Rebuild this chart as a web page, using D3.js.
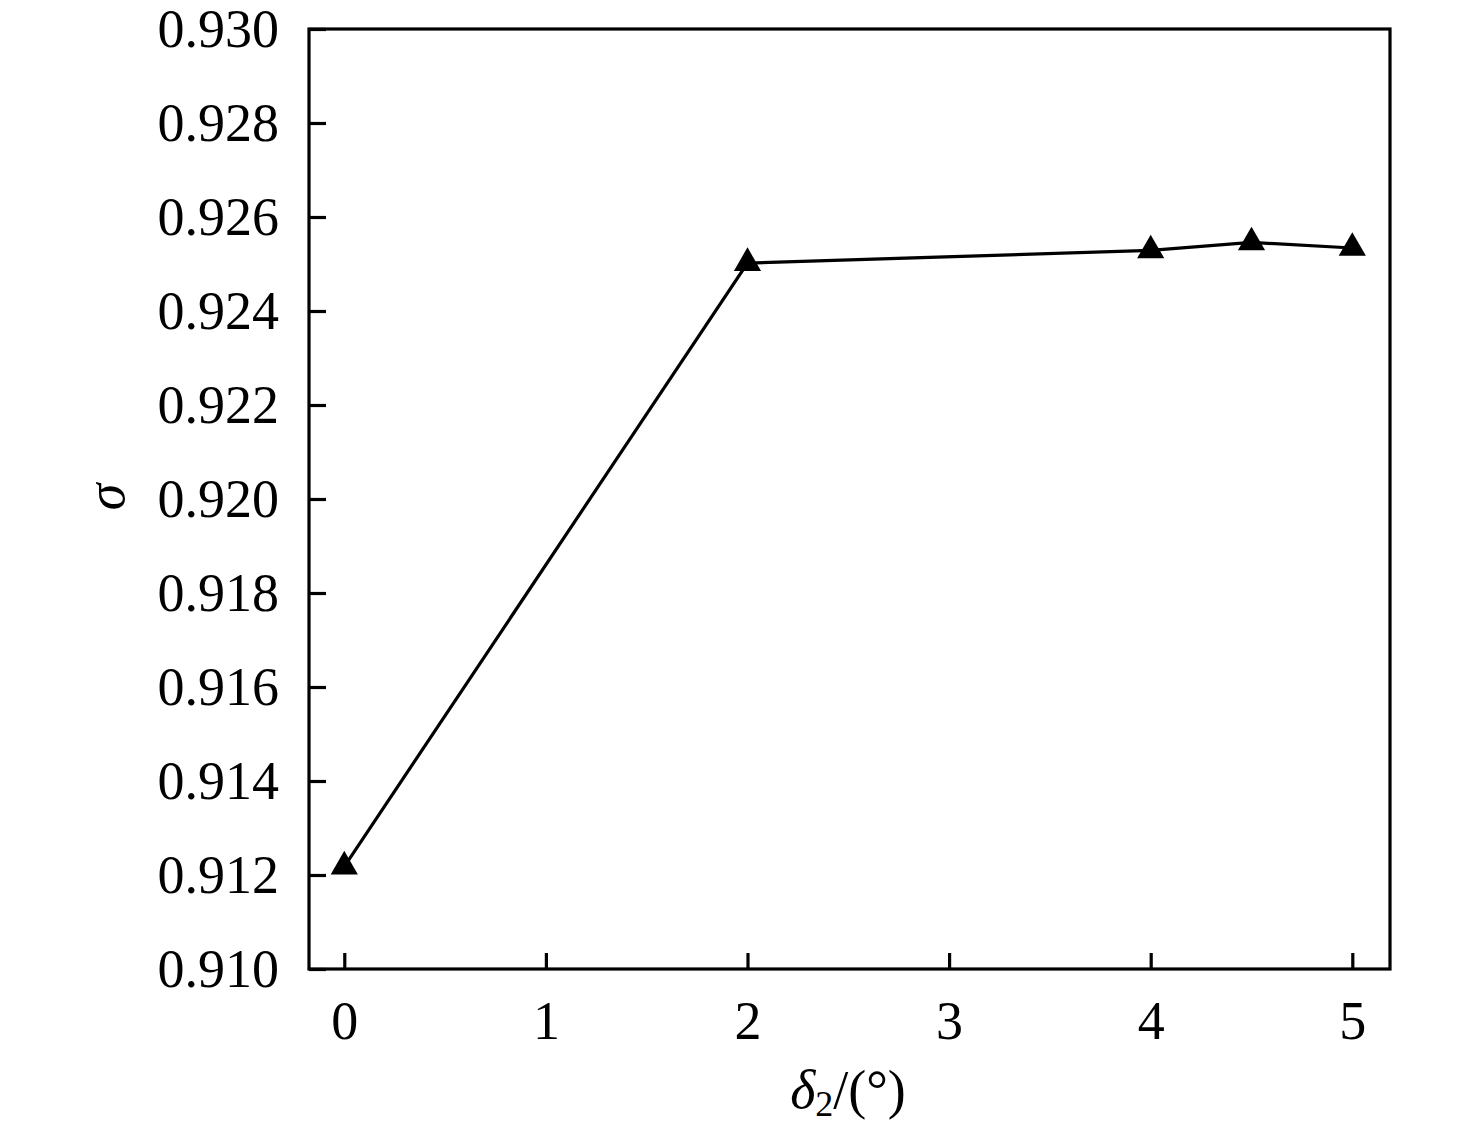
<!DOCTYPE html>
<html><head><meta charset="utf-8">
<script src="https://cdn.jsdelivr.net/npm/d3@7"></script>
<style>body{margin:0;background:#fff;} svg{display:block;}</style>
</head><body>
<svg id="c" width="1476" height="1134"></svg>
<script>
const xValues = [0, 2, 4, 4.5, 5];
const sigmaValues = [0.91218, 0.92502, 0.92529, 0.92546, 0.92534];
const xTicks = [0, 1, 2, 3, 4, 5];
const yTicks = [0.910, 0.912, 0.914, 0.916, 0.918, 0.920, 0.922, 0.924, 0.926, 0.928, 0.930];

const svg = d3.select("#c");
const L = 309, R = 1390, T = 29, B = 969;
const x = d3.scaleLinear().domain([-0.175, 5.187]).range([L, R]);
const y = d3.scaleLinear().domain([0.910, 0.930]).range([B, T]);
const font = "'Liberation Serif','Times New Roman',serif";

const xAxis = svg.append("g").attr("transform", `translate(0,${B})`)
  .call(d3.axisBottom(x).tickValues(xTicks).tickSize(-16).tickPadding(0).tickFormat(d3.format("d")));
xAxis.selectAll("text").attr("dy", 0).attr("y", 70);
const yAxis = svg.append("g").attr("transform", `translate(${L},0)`)
  .call(d3.axisLeft(y).tickValues(yTicks).tickSize(-17).tickPadding(0).tickFormat(d3.format(".3f")));
yAxis.selectAll("text").attr("dy", 0).attr("x", -30).attr("y", 17);
[xAxis, yAxis].forEach(a => {
  a.select(".domain").remove();
  a.selectAll("line").attr("stroke", "#000").attr("stroke-width", 3.2);
  a.selectAll("text").attr("font-family", font).attr("font-size", 54).attr("fill", "#000");
});

svg.append("rect").attr("x", L).attr("y", T).attr("width", R - L).attr("height", B - T)
  .attr("fill", "none").attr("stroke", "#000").attr("stroke-width", 3.2);

const data = xValues.map((v, i) => [v, sigmaValues[i]]);
svg.append("path").datum(data)
  .attr("d", d3.line().x(d => x(d[0])).y(d => y(d[1])))
  .attr("fill", "none").attr("stroke", "#000").attr("stroke-width", 3.2);

const tri = d3.symbol().type(d3.symbolTriangle).size(320);
svg.selectAll(".m").data(data).enter().append("path")
  .attr("transform", d => `translate(${x(d[0])},${y(d[1])})`)
  .attr("d", tri).attr("fill", "#000");

svg.append("text").attr("transform", "translate(124,497) rotate(-90)")
  .attr("text-anchor", "middle").attr("font-family", font).attr("font-size", 54)
  .attr("font-style", "italic").text("σ");

const xl = svg.append("text").attr("x", 848).attr("y", 1108).attr("text-anchor", "middle")
  .attr("font-family", font).attr("font-size", 54);
xl.append("tspan").attr("font-style", "italic").text("δ");
xl.append("tspan").attr("font-size", 36).attr("dy", 8).text("2");
xl.append("tspan").attr("dy", -8).text("/(°)");
</script>
</body></html>
